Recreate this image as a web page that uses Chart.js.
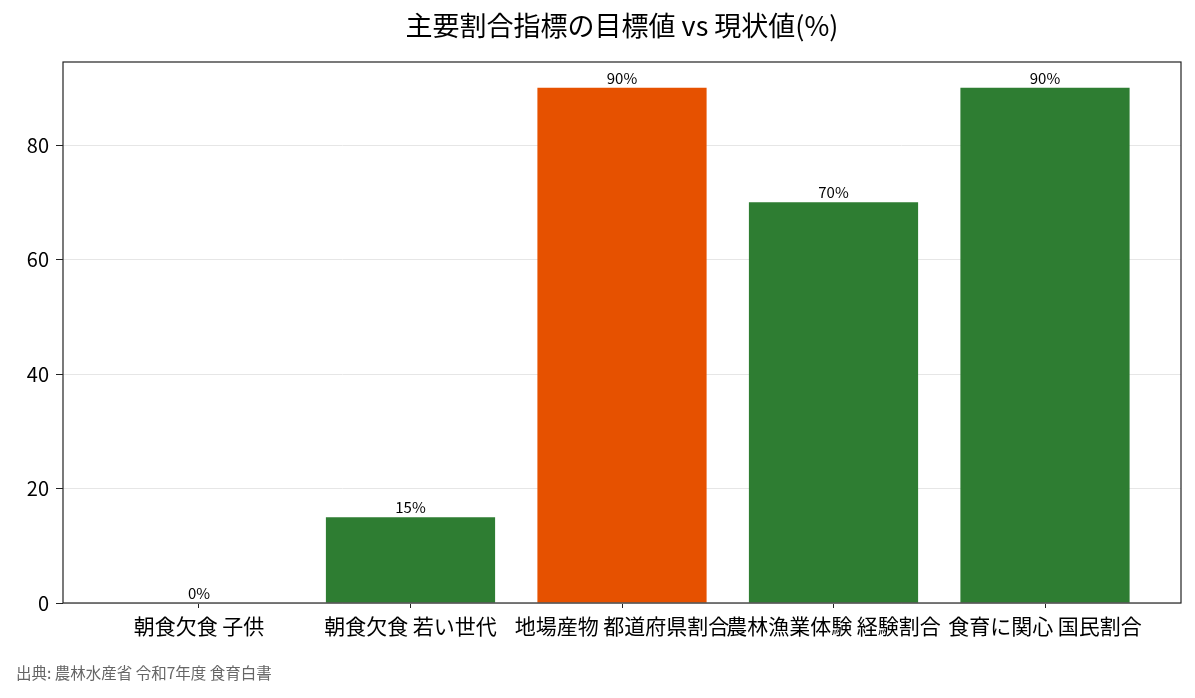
<!DOCTYPE html>
<html>
<head>
<meta charset="utf-8">
<script src="https://cdn.jsdelivr.net/npm/chart.js@4.4.1/dist/chart.umd.min.js"></script>
<style>
  body { margin: 0; background: #fff; }
  canvas { display: block; }
</style>
</head>
<body>
<canvas id="grafico" width="1195" height="698"></canvas>
<script>
const categorias = ["朝食欠食 子供", "朝食欠食 若い世代", "地場産物 都道府県割合", "農林漁業体験 経験割合", "食育に関心 国民割合"];
const valores = [0, 15, 90, 70, 90];
const cores = ["#2e7d32", "#2e7d32", "#e65100", "#2e7d32", "#2e7d32"];
const ticksY = [0, 20, 40, 60, 80];
const titulo = "主要割合指標の目標値 vs 現状値(%)";
const fonte = "出典: 農林水産省 令和7年度 食育白書";
const FAMILIA = "'Noto Sans CJK JP', 'Noto Sans', sans-serif";

const moldura = {
  id: "moldura",
  afterDatasetsDraw(chart) {
    const { ctx, chartArea: a } = chart;
    ctx.save();
    // rotulos em cima das barras
    const meta = chart.getDatasetMeta(0);
    ctx.font = "15px " + FAMILIA;
    ctx.fillStyle = "#000";
    ctx.textAlign = "center";
    ctx.textBaseline = "bottom";
    meta.data.forEach((bar, i) => {
      ctx.fillText(valores[i] + "%", bar.x, bar.y - 2);
    });
    // caixa
    ctx.strokeStyle = "#222";
    ctx.lineWidth = 1.2;
    ctx.strokeRect(a.left, a.top, a.right - a.left, a.bottom - a.top);
    // titulo centrado na area do grafico
    ctx.font = "27px " + FAMILIA;
    ctx.fillStyle = "#000";
    ctx.textBaseline = "middle";
    ctx.fillText(titulo, (a.left + a.right) / 2, 26);
    // fonte
    ctx.font = "15.5px " + FAMILIA;
    ctx.fillStyle = "#666";
    ctx.textAlign = "left";
    ctx.fillText(fonte, 16, 673);
    ctx.restore();
  },
};

new Chart(document.getElementById("grafico"), {
  type: "bar",
  data: {
    datasets: [
      {
        data: valores.map((v, i) => ({ x: i, y: v })),
        backgroundColor: cores,
        borderWidth: 0,
        barPercentage: 0.8,
        categoryPercentage: 1,
      },
    ],
  },
  plugins: [moldura],
  options: {
    responsive: false,
    animation: false,
    layout: { padding: { left: 0, right: 14, top: 62, bottom: 60 } },
    plugins: {
      legend: { display: false },
      tooltip: { enabled: false },
      title: { display: false },
    },
    scales: {
      x: {
        type: "linear",
        offset: false,
        min: -0.643,
        max: 4.643,
        afterBuildTicks: (s) => { s.ticks = categorias.map((c, i) => ({ value: i })); },
        afterFit: (s) => { s.height = 35; },
        ticks: {
          callback: (v) => categorias[v],
          color: "#000",
          font: { family: FAMILIA, size: 21 },
          padding: 5,
          maxRotation: 0,
          autoSkip: false,
        },
        grid: { offset: false, drawOnChartArea: false, tickLength: 5, tickColor: "#222" },
        border: { display: false },
      },
      y: {
        min: 0,
        max: 94.5,
        afterBuildTicks: (s) => { s.ticks = ticksY.map((v) => ({ value: v })); },
        afterFit: (s) => { s.width = 63; },
        ticks: {
          color: "#000",
          font: { family: FAMILIA, size: 20 },
          padding: 7,
        },
        grid: { color: "#e6e6e6", tickLength: 7, tickColor: "#222" },
        border: { display: false },
      },
    },
  },
});
</script>
</body>
</html>
